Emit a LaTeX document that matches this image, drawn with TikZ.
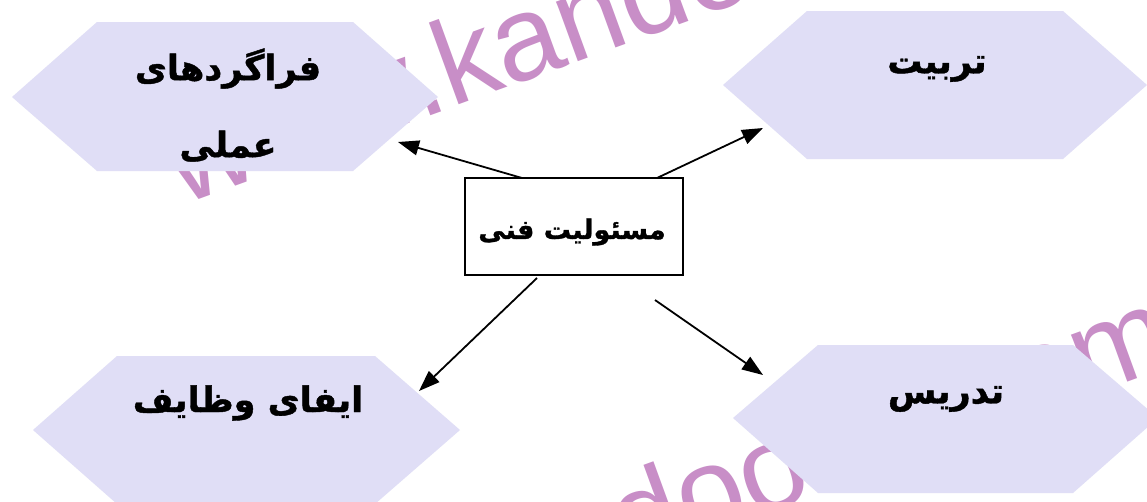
\documentclass[tikz,border=0pt]{standalone}
\usepackage{fontspec}
\usetikzlibrary{arrows.meta}
\TeXXeTstate=1
\newfontfamily\arabicfont[Script=Arabic, BoldFeatures={FakeBold=1.2}]{DejaVu Sans}
\newfontfamily\wmfont{Liberation Sans}
\definecolor{hexfill}{RGB}{224,222,246}
\definecolor{wmcolor}{RGB}{200,142,199}
\tikzset{
  hexshape/.style={fill=hexfill, draw=none},
  hextext/.style={font=\arabicfont\bfseries\fontsize{35}{77}\selectfont, inner sep=0pt, align=center},
  conn/.style={draw=black, line width=1.8pt, -{Triangle[length=21pt,width=15pt]}},
  watermark/.style={font=\wmfont\fontsize{120}{120}\selectfont, text=wmcolor, rotate=20, anchor=base west, inner sep=0pt},
  centerbox/.style={draw=black, line width=1.8pt, fill=white, minimum width=218pt, minimum height=97pt, inner sep=0pt},
  centertext/.style={font=\arabicfont\bfseries\fontsize{27}{32}\selectfont, inner sep=0pt}
}
\begin{document}
\begin{tikzpicture}[x=1pt,y=-1pt]
\useasboundingbox (0,0) rectangle (1147,501);
\clip (0,0) rectangle (1147,501);
\fill[white] (0,0) rectangle (1147,501);
% watermark
\node[watermark] (wm1) at (182,206) {www.kandoocn.com};
\node[watermark] (wm2) at (177,728) {www.kandoocn.com};
% hexagons
\fill[hexshape] (12,97) -- (97,22) -- (353,22) -- (438,97) -- (353,171) -- (97,171) -- cycle;
\fill[hexshape] (723,85) -- (807,11) -- (1063,11) -- (1147,85) -- (1063,159) -- (807,159) -- cycle;
\fill[hexshape] (33,430) -- (117,356) -- (375,356) -- (460,430) -- (375,504) -- (117,504) -- cycle;
\fill[hexshape] (733,418) -- (818,345) -- (1073,345) -- (1158,418) -- (1073,493) -- (818,493) -- cycle;
% texts
\node[hextext] (h1) at (228,105) {\beginR فراگردهای\endR\\\beginR عملی\endR};
\node[hextext] (h2) at (937,69) {\beginR تربیت\endR};
\node[hextext] (h3) at (248,403) {\beginR ایفای وظایف\endR};
\node[hextext] (h4) at (946,399) {\beginR تدریس\endR};
% center
\node[centerbox] (c) at (574,226.5) {};
\node[centertext] (ct) at (572,232) {\beginR مسئولیت فنی\endR};
% connector ends
\coordinate (s1) at (522,178);
\coordinate (e1) at (398,142);
\coordinate (s2) at (657,178);
\coordinate (e2) at (763,128);
\coordinate (s3) at (537,278);
\coordinate (e3) at (419,391);
\coordinate (s4) at (655,300);
\coordinate (e4) at (763,375);
\draw[conn] (s1) -- (e1);
\draw[conn] (s2) -- (e2);
\draw[conn] (s3) -- (e3);
\draw[conn] (s4) -- (e4);
\end{tikzpicture}
\end{document}
